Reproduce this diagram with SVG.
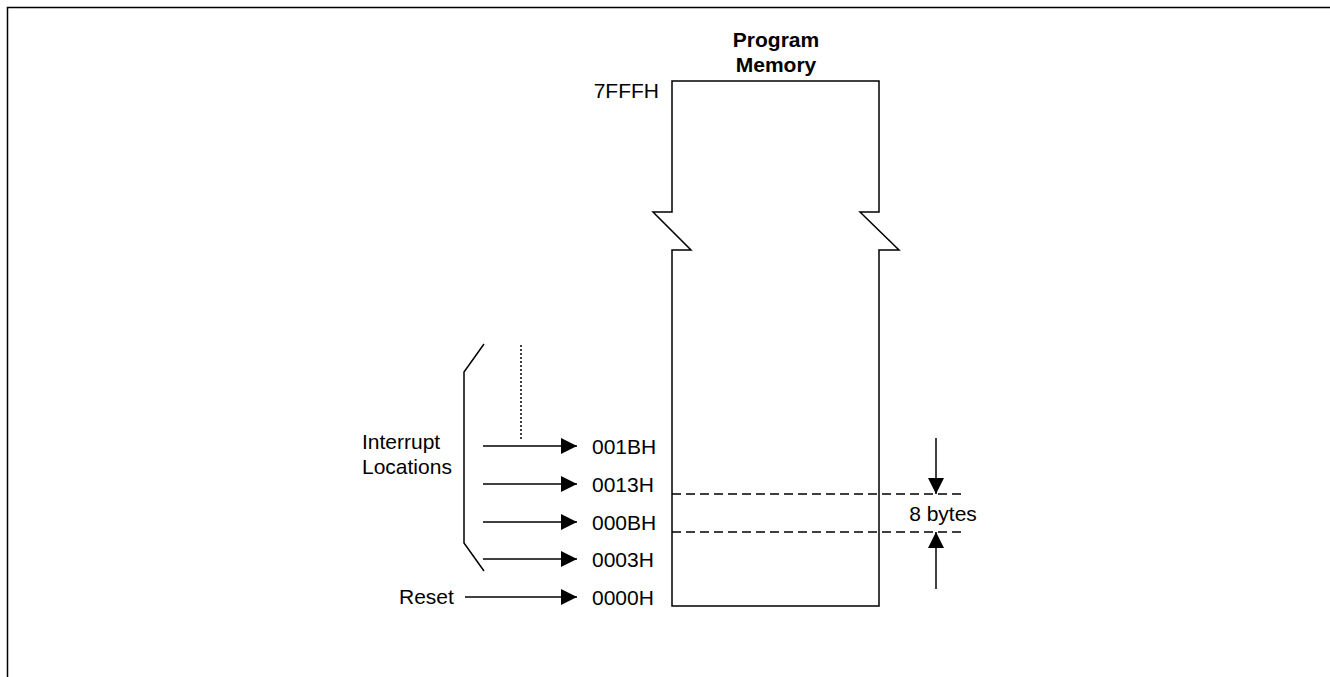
<svg xmlns="http://www.w3.org/2000/svg" width="1330" height="677" viewBox="0 0 1330 677">
<style>
text{font-family:"Liberation Sans",Arial,sans-serif;font-size:21px;fill:#000}
.b{font-weight:bold}
.ln{stroke:#000;stroke-width:1.5;fill:none}
.dash{stroke:#000;stroke-width:1.5;fill:none;stroke-dasharray:9 5}
.dot{stroke:#000;stroke-width:1.5;fill:none;stroke-dasharray:2 2}
</style>
<defs>
<marker id="ah" markerUnits="userSpaceOnUse" markerWidth="16" markerHeight="18" refX="16" refY="9" orient="auto">
<path d="M0,1 L16,9 L0,17 Z" fill="#000"/>
</marker>
</defs>
<rect width="1330" height="677" fill="#fff"/>
<path class="ln" d="M7.5,677 V7.5 H1330"/>
<g id="memory">
<path class="ln" d="M672,212 V81 H879 V212 H860 L899,250 H879 V606 H672 V250 H691 L653,212 Z"/>
<text class="b" x="776" y="47" text-anchor="middle">Program</text>
<text class="b" x="776" y="72" text-anchor="middle">Memory</text>
<text x="659" y="98" text-anchor="end">7FFFH</text>
</g>
<g id="interrupts">
<path class="ln" d="M484,344 L464,372 V543 L484,571"/>
<text x="362" y="449">Interrupt</text>
<text x="362" y="474">Locations</text>
</g>
<g id="reset">
<text x="399" y="604">Reset</text>
</g>
<g id="labels">
<text x="592" y="454">001BH</text>
<text x="592" y="492">0013H</text>
<text x="592" y="530">000BH</text>
<text x="592" y="567">0003H</text>
<text x="592" y="605">0000H</text>
<text x="943" y="521" text-anchor="middle">8 bytes</text>
</g>
<g id="connectors">
<line class="dot" x1="521" y1="345" x2="521" y2="439"/>
<line class="ln" x1="483" y1="446" x2="577" y2="446" marker-end="url(#ah)"/>
<line class="ln" x1="483" y1="484" x2="577" y2="484" marker-end="url(#ah)"/>
<line class="ln" x1="483" y1="522" x2="577" y2="522" marker-end="url(#ah)"/>
<line class="ln" x1="483" y1="559" x2="577" y2="559" marker-end="url(#ah)"/>
<line class="ln" x1="465" y1="597" x2="577" y2="597" marker-end="url(#ah)"/>
<line class="dash" x1="672" y1="494" x2="962" y2="494"/>
<line class="dash" x1="672" y1="532" x2="962" y2="532"/>
<line class="ln" x1="936" y1="438" x2="936" y2="494" marker-end="url(#ah)"/>
<line class="ln" x1="936" y1="589" x2="936" y2="532" marker-end="url(#ah)"/>
</g>
</svg>
